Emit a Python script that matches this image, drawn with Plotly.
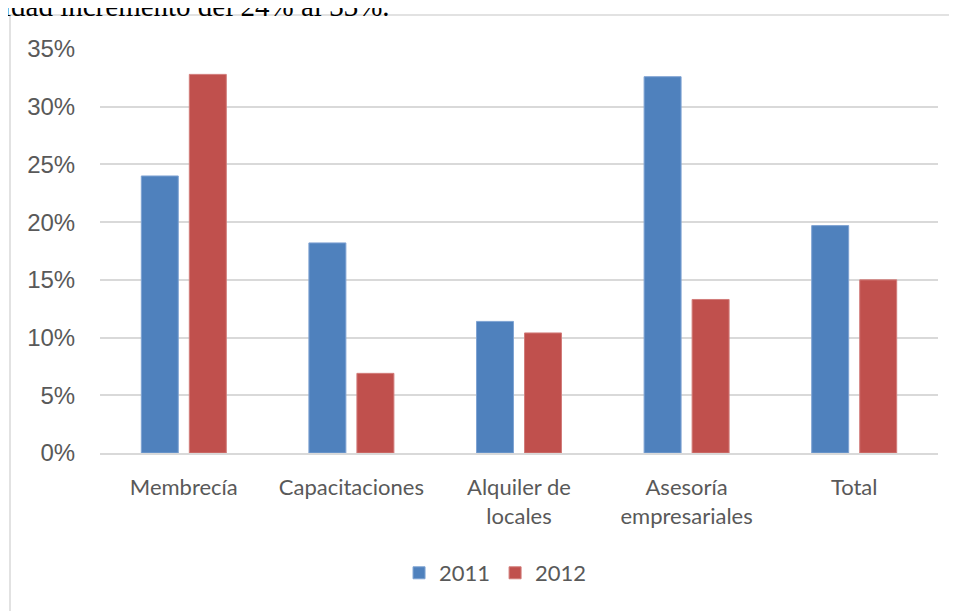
import plotly.graph_objects as go

# categories and values
categorias = ['Membrecía', 'Capacitaciones', 'Alquiler de<br>locales',
              'Asesoría<br>empresariales', 'Total']
valores_2011 = [0.240, 0.182, 0.114, 0.326, 0.197]
valores_2012 = [0.328, 0.069, 0.104, 0.133, 0.150]
series = ['2011', '2012']
texto_superior = 'idad incremento del 24% al 33%.'

azul = '#4F81BD'
rojo = '#C0504D'
gris_rejilla = '#D9D9D9'
gris_texto = '#595959'

fig = go.Figure()
fig.add_trace(go.Bar(x=categorias, y=valores_2011, name=series[0],
                     marker=dict(color=azul, line=dict(color='#7FA3D3', width=1))))
fig.add_trace(go.Bar(x=categorias, y=valores_2012, name=series[1],
                     marker=dict(color=rojo, line=dict(color='#D27C7A', width=1))))

# page body adds 8px, so margins are trimmed by that much on the left/top
fig.update_layout(
    width=957, height=611,
    margin=dict(l=92, r=27, t=41, b=166),
    paper_bgcolor='white', plot_bgcolor='white',
    barmode='group', bargap=0.427, bargroupgap=0.23,
    legend=dict(orientation='h', x=0.472, xanchor='center', y=-0.297, yanchor='middle',
                font=dict(family='Lato', size=22, color=gris_texto),
                itemwidth=30, traceorder='normal'),
    shapes=[dict(type='rect', xref='paper', yref='paper',
                 x0=-0.1074, x1=1.2, y0=-0.6, y1=1.084,
                 line=dict(color=gris_rejilla, width=1.5), layer='below')],
    annotations=[dict(text=texto_superior, xref='paper', yref='paper',
                      x=-0.118, xanchor='left', y=1.106, yanchor='middle',
                      showarrow=False,
                      font=dict(family='Liberation Serif', size=29, color='black'))],
)

fig.update_yaxes(range=[0, 0.35], dtick=0.05, tickformat='.0%',
                 showgrid=True, gridcolor=gris_rejilla, gridwidth=1.5,
                 zeroline=False, showline=False,
                 ticks='outside', ticklen=19, tickcolor='rgba(0,0,0,0)',
                 tickfont=dict(family='Liberation Sans', size=24, color=gris_texto))
fig.update_xaxes(showline=True, linecolor=gris_rejilla, linewidth=1.5,
                 ticks='outside', ticklen=14, tickcolor='rgba(0,0,0,0)',
                 tickfont=dict(family='Lato', size=22, color=gris_texto))

fig.write_html("out.html")
